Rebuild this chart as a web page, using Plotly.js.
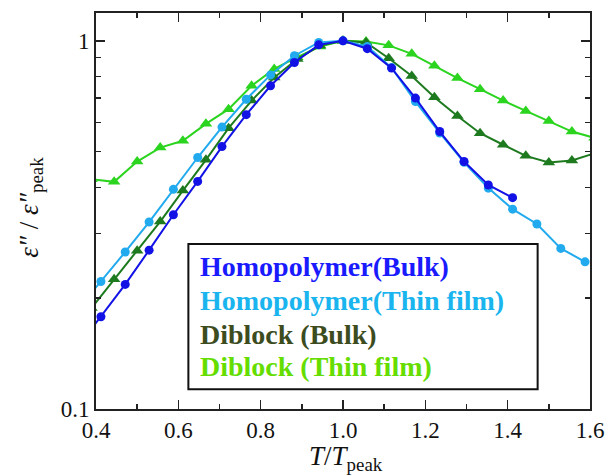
<!DOCTYPE html>
<html>
<head>
<meta charset="utf-8">
<script src="https://cdn.plot.ly/plotly-3.0.1.min.js"></script>
<style>html,body{margin:0;padding:0;background:#fff;}#chart{width:608px;height:475px;}</style>
</head>
<body>
<div id="chart"></div>
<script>
// Homopolymer temperatures (T/Tpeak)
var xHomo = [0.353, 0.412, 0.471, 0.529, 0.588, 0.647, 0.706, 0.765, 0.824, 0.882, 0.941, 1.000,
             1.059, 1.118, 1.176, 1.235, 1.294, 1.353, 1.412, 1.471, 1.529, 1.588];
var yHomoBulk = [0.146, 0.178, 0.218, 0.270, 0.337, 0.415, 0.516, 0.630, 0.755, 0.873, 0.975, 1.000,
                 0.952, 0.843, 0.699, 0.567, 0.470, 0.406, 0.375];
var yHomoFilm = [0.185, 0.222, 0.267, 0.322, 0.395, 0.482, 0.583, 0.694, 0.808, 0.911, 0.990, 1.000,
                 0.965, 0.846, 0.684, 0.562, 0.468, 0.398, 0.349, 0.318, 0.273, 0.251];
// Diblock temperatures (T/Tpeak)
var xDiblock = [0.389, 0.444, 0.500, 0.556, 0.611, 0.667, 0.722, 0.778, 0.833, 0.889, 0.944, 1.000,
                1.056, 1.111, 1.167, 1.222, 1.278, 1.333, 1.389, 1.444, 1.500, 1.556, 1.611];
var yDiblockBulk = [0.188, 0.225, 0.269, 0.323, 0.392, 0.475, 0.579, 0.688, 0.795, 0.892, 0.971, 1.000,
                    0.990, 0.897, 0.803, 0.703, 0.625, 0.561, 0.522, 0.487, 0.467, 0.473, 0.495];
var yDiblockFilm = [0.421, 0.414, 0.470, 0.513, 0.535, 0.595, 0.652, 0.755, 0.839, 0.903, 0.965, 1.000,
                    0.996, 0.972, 0.922, 0.855, 0.792, 0.739, 0.688, 0.645, 0.606, 0.567, 0.545];

var seriesNames = ["Homopolymer(Bulk)", "Homopolymer(Thin film)", "Diblock (Bulk)", "Diblock (Thin film)"];
var lineColors = ["#1212e6", "#22aaee", "#1e7a1e", "#2bd41f"];
var textColors = ["#1a1aff", "#1ab4ee", "#3c4c1e", "#66dd00"];

var xTickVals = [0.4, 0.6, 0.8, 1.0, 1.2, 1.4, 1.6];
var xTickText = ["0.4", "0.6", "0.8", "1.0", "1.2", "1.4", "1.6"];
var yTickVals = [0.1, 1];
var yTickText = ["0.1", "1"];
var yMinorVals = [0.2, 0.3, 0.4, 0.5, 0.6, 0.7, 0.8, 0.9];

function mk(x, y, i, sym, size) {
  return {
    x: x.slice(0, y.length), y: y, type: "scatter", mode: "lines+markers", name: seriesNames[i],
    line: {color: lineColors[i], width: 2},
    marker: {color: lineColors[i], symbol: sym, size: size},
    showlegend: false
  };
}

var traces = [
  mk(xDiblock, yDiblockFilm, 3, "triangle-up", 11),
  mk(xDiblock, yDiblockBulk, 2, "triangle-up", 11),
  mk(xHomo, yHomoFilm, 1, "circle", 9),
  mk(xHomo, yHomoBulk, 0, "circle", 9)
];

var serif = "Liberation Serif, Times New Roman, serif";
var axisColor = "#222";

var ann = [];
var rowY = [0.359, 0.275, 0.188, 0.107];
for (var i = 0; i < 4; i++) {
  ann.push({
    xref: "paper", yref: "paper", x: 0.2065, y: rowY[i], xanchor: "left", yanchor: "middle",
    text: "<b>" + seriesNames[i] + "</b>", showarrow: false,
    font: {family: serif, size: 28, weight: "bold", color: textColors[i]}
  });
}
ann.push({
  xref: "paper", yref: "paper", x: -0.132, y: 0.51, xanchor: "center", yanchor: "middle",
  textangle: -90, showarrow: false,
  text: "<i>ε″</i> / <i>ε″</i><sub>peak</sub>",
  font: {family: serif, size: 27, color: "#111"}
});
ann.push({
  xref: "paper", yref: "paper", x: 0.506, y: -0.075, xanchor: "center", yanchor: "top",
  showarrow: false,
  text: "<i>T</i>/<i>T</i><sub>peak</sub>",
  font: {family: serif, size: 27, color: "#111"}
});

var layout = {
  width: 608, height: 475,
  margin: {l: 96, r: 18, t: 13, b: 66},
  paper_bgcolor: "#fff", plot_bgcolor: "#fff",
  showlegend: false,
  xaxis: {
    range: [0.4, 1.6], tickmode: "array", tickvals: xTickVals, ticktext: xTickText,
    ticks: "inside", ticklen: 9, tickwidth: 1.5, tickcolor: axisColor,
    minor: {dtick: 0.1, tick0: 0.4, ticks: "inside", ticklen: 5, tickwidth: 1.5, tickcolor: axisColor, showgrid: false},
    showline: true, linecolor: axisColor, linewidth: 1.8, mirror: "ticks",
    showgrid: false, zeroline: false,
    tickfont: {family: serif, size: 23, color: "#111"}
  },
  yaxis: {
    type: "log", range: [-1, Math.log10(1.19)], tickmode: "array", tickvals: yTickVals, ticktext: yTickText,
    ticks: "inside", ticklen: 9, tickwidth: 1.5, tickcolor: axisColor,
    minor: {tickmode: "array", tickvals: yMinorVals, ticks: "inside", ticklen: 5, tickwidth: 1.5, tickcolor: axisColor, showgrid: false},
    showline: true, linecolor: axisColor, linewidth: 1.8, mirror: "ticks",
    showgrid: false, zeroline: false,
    tickfont: {family: serif, size: 23, color: "#111"}
  },
  annotations: ann,
  shapes: [{
    type: "rect", xref: "paper", yref: "paper", x0: 0.187, x1: 0.894, y0: 0.05, y1: 0.4167,
    line: {color: "#111", width: 2}, fillcolor: "#fff", layer: "above"
  }]
};

Plotly.newPlot("chart", traces, layout, {displayModeBar: false, staticPlot: true});
</script>
</body>
</html>
